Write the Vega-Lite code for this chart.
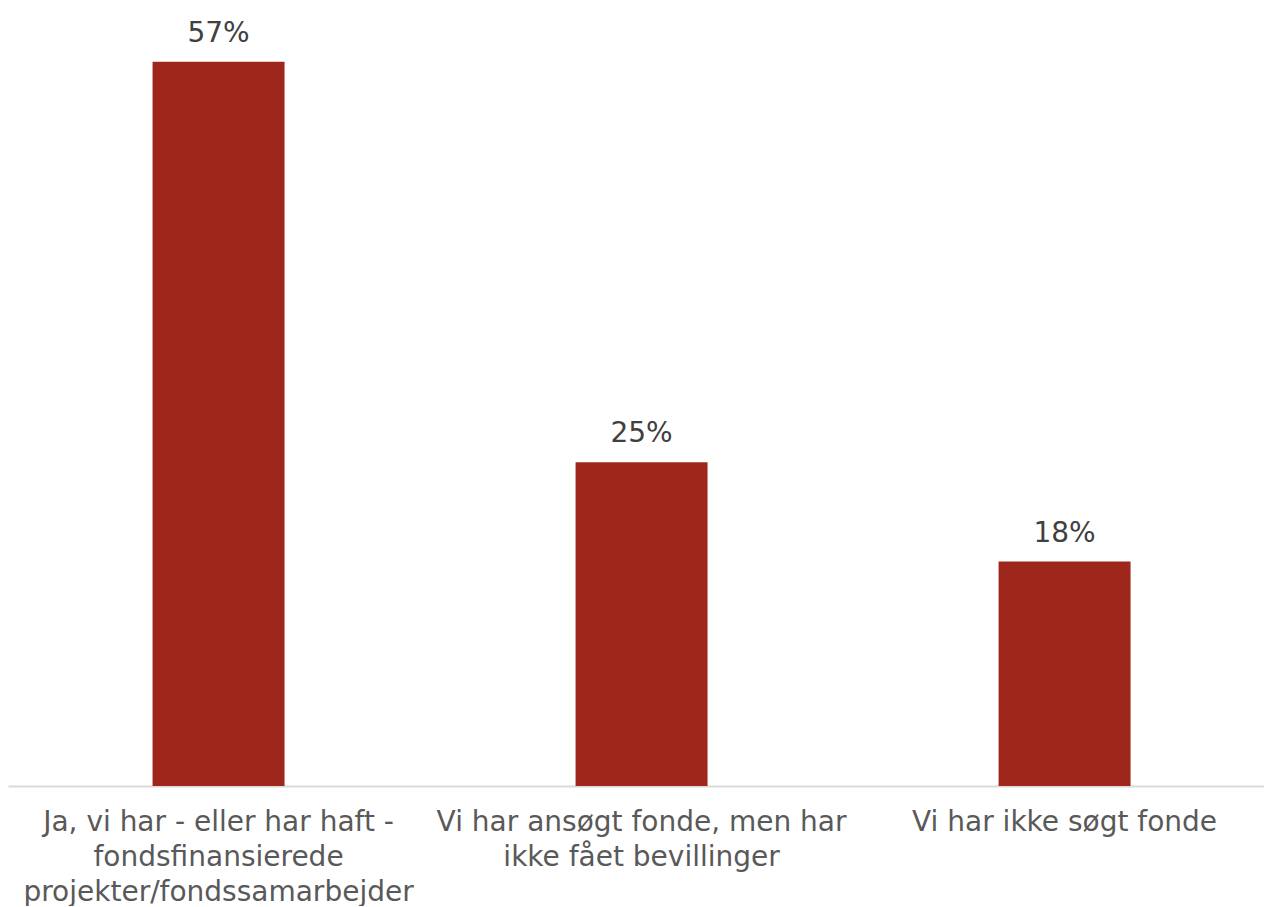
{
  "$schema": "https://vega.github.io/schema/vega-lite/v6.json",
  "width": 1256,
  "height": 765,
  "padding": {"left": 8, "top": 19, "right": 0, "bottom": 0},
  "background": "white",
  "config": {"view": {"stroke": null}, "font": "DejaVu Sans"},
  "data": {
    "values": [
      {"kategori": "Ja, vi har - eller har haft -|fondsfinansierede|projekter/fondssamarbejder", "andel": 0.568},
      {"kategori": "Vi har ansøgt fonde, men har|ikke fået bevillinger", "andel": 0.254},
      {"kategori": "Vi har ikke søgt fonde", "andel": 0.176}
    ]
  },
  "encoding": {
    "x": {
      "field": "kategori",
      "type": "nominal",
      "sort": null,
      "scale": {"paddingInner": 0.688, "paddingOuter": 0.3286, "align": 0.52},
      "axis": {
        "title": null,
        "labelAngle": 0,
        "ticks": false,
        "labelPadding": 22,
        "labelFontSize": 28,
        "labelColor": "#595959",
        "labelLineHeight": 35,
        "labelLimit": 600,
        "labelExpr": "split(datum.label, '|')",
        "domainColor": "#d9d9d9",
        "domainWidth": 2,
        "grid": false
      }
    },
    "y": {
      "field": "andel",
      "type": "quantitative",
      "scale": {"domain": [0, 0.6], "nice": false},
      "axis": null
    }
  },
  "layer": [
    {"mark": {"type": "bar", "color": "#9E261B"}},
    {
      "mark": {"type": "text", "baseline": "alphabetic", "dy": -20, "fontSize": 28, "color": "#404040"},
      "encoding": {"text": {"field": "andel", "type": "quantitative", "format": ".0%"}}
    }
  ]
}
